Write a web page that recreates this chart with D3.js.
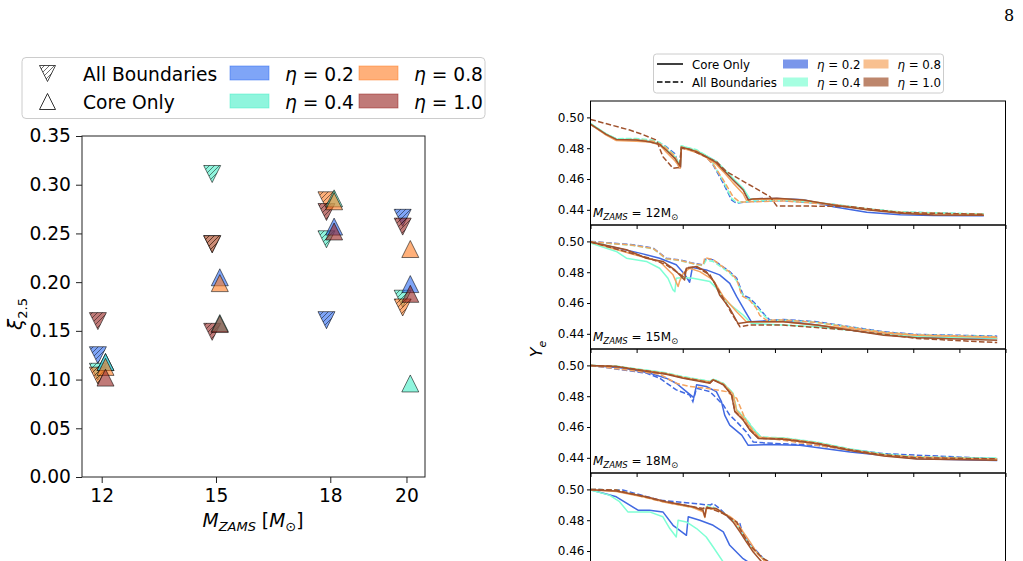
<!DOCTYPE html>
<html>
<head>
<meta charset="utf-8">
<script src="https://cdn.jsdelivr.net/npm/d3@7"></script>
<style>
  body { margin: 0; background: #fff; }
  svg { display: block; font-family: "DejaVu Sans", sans-serif; }
</style>
</head>
<body>
<div id="chart"></div>
<script>
// ---------- left panel: xi_2.5 vs M_ZAMS ----------
const masses = [12, 15, 18, 20];
const etaLabels = ["0.2", "0.4", "0.8", "1.0"];
const leftColors = ["#2a69f2", "#44eec6", "#ff7b21", "#96211e"];
const xiTicks = [0, 0.05, 0.10, 0.15, 0.20, 0.25, 0.30, 0.35];

// one row per eta, columns follow masses
const xiAll = [
  [0.125, 0.239, 0.161, 0.266],
  [0.108, 0.311, 0.244, 0.183],
  [0.104, 0.239, 0.284, 0.174],
  [0.160, 0.149, 0.272, 0.257]
];
const xiCore = [
  [0.118, 0.205, 0.257, 0.198],
  [0.118, 0.158, 0.286, 0.096],
  [0.113, 0.199, 0.283, 0.234],
  [0.102, 0.157, 0.252, 0.188]
];

// ---------- right panels: Y_e profiles ----------
const lineColors = ["#4169e1", "#7fffd4", "#f4a460", "#a0522d"];
const legendColors = ["#7a96ea", "#a6ffe1", "#f8c090", "#bd866c"];
const yeTicks = [0.44, 0.46, 0.48, 0.50];
const xTicksR = [0, 1, 2, 3, 4, 5, 6, 7, 8, 9];

// [x, Y_e] pairs, order eta 0.2, 0.4, 0.8, 1.0
const ye12Core = [
  [[0,0.4957],[0.34,0.489],[0.56,0.4857],[0.99,0.4853],[1.28,0.4842],[1.5,0.4825],[1.64,0.479],[1.83,0.4738],[1.95,0.4675],[1.97,0.481],[2.3,0.4782],[2.51,0.475],[2.73,0.4712],[2.88,0.4665],[3.09,0.46],[3.31,0.4535],[3.42,0.447],[3.6,0.4472],[4.04,0.4474],[4.62,0.4465],[5.27,0.442],[5.99,0.4385],[6.72,0.4368],[7.44,0.4363],[8.53,0.4362]],
  [[0,0.4962],[0.34,0.4893],[0.56,0.486],[0.99,0.4856],[1.28,0.4846],[1.5,0.483],[1.64,0.4795],[1.83,0.4745],[1.95,0.469],[1.97,0.4815],[2.3,0.4785],[2.51,0.4752],[2.73,0.4715],[2.88,0.467],[3.09,0.4605],[3.31,0.454],[3.46,0.447],[4.04,0.4472],[4.62,0.4462],[5.27,0.4432],[5.99,0.4405],[6.72,0.4385],[7.44,0.4374],[8.53,0.4372]],
  [[0,0.4955],[0.34,0.4885],[0.56,0.485],[0.99,0.4846],[1.28,0.484],[1.5,0.4822],[1.64,0.4775],[1.83,0.4718],[1.95,0.4672],[1.97,0.4802],[2.3,0.4772],[2.51,0.474],[2.73,0.4695],[2.88,0.4648],[3.09,0.4575],[3.31,0.4505],[3.38,0.4462],[3.53,0.4468],[4.04,0.447],[4.62,0.4462],[5.27,0.4432],[5.99,0.4403],[6.72,0.4383],[7.44,0.4372],[8.53,0.437]],
  [[0,0.4957],[0.34,0.489],[0.56,0.4857],[0.99,0.4853],[1.28,0.4842],[1.5,0.4825],[1.64,0.4788],[1.83,0.4734],[1.95,0.468],[1.97,0.4806],[2.08,0.4799],[2.3,0.4778],[2.51,0.4745],[2.73,0.4706],[2.88,0.4659],[3.09,0.4594],[3.31,0.4529],[3.42,0.4464],[3.53,0.4471],[4.04,0.4475],[4.62,0.4464],[5.27,0.4432],[5.99,0.44],[6.72,0.4378],[7.44,0.4367],[8.53,0.4365]]
];
const ye12All = [
  [[0,0.4957],[0.34,0.489],[0.56,0.486],[0.99,0.486],[1.36,0.4848],[1.5,0.4835],[1.64,0.481],[1.83,0.4765],[1.93,0.467],[1.97,0.4806],[2.3,0.4785],[2.51,0.4745],[2.66,0.4691],[2.88,0.4573],[3.06,0.4464],[3.17,0.4443],[3.46,0.4454],[4.18,0.446],[5.27,0.4435],[5.99,0.4405],[6.72,0.4385],[8.53,0.4371]],
  [[0,0.496],[0.34,0.4893],[0.56,0.4862],[0.99,0.4863],[1.36,0.4852],[1.5,0.4838],[1.64,0.4805],[1.83,0.4755],[1.93,0.4672],[1.97,0.4815],[2.3,0.479],[2.51,0.4752],[2.66,0.47],[2.88,0.4585],[3.06,0.4475],[3.17,0.4447],[3.46,0.4456],[4.18,0.4462],[5.27,0.4437],[5.99,0.4407],[6.72,0.4387],[8.53,0.4373]],
  [[0,0.4955],[0.34,0.4888],[0.56,0.4855],[0.99,0.4856],[1.36,0.4845],[1.5,0.483],[1.64,0.48],[1.83,0.475],[1.93,0.4668],[1.97,0.4808],[2.3,0.4783],[2.51,0.4742],[2.66,0.4695],[2.88,0.4595],[3.09,0.4485],[3.24,0.445],[3.46,0.4452],[4.18,0.4458],[5.27,0.4434],[5.99,0.4404],[6.72,0.4384],[8.53,0.437]],
  [[0,0.4987],[0.85,0.4918],[1.07,0.4896],[1.43,0.4853],[1.57,0.4745],[1.79,0.467],[1.93,0.4675],[1.97,0.4799],[2.15,0.4793],[2.73,0.4713],[2.95,0.4648],[3.89,0.4486],[4.04,0.4425],[4.62,0.4425],[5.63,0.4421],[6.72,0.4382],[8.53,0.4371]]
];

const ye15Core = [
  [[0,0.4996],[1.07,0.4924],[1.5,0.4891],[1.86,0.4848],[2.04,0.4787],[2.15,0.4735],[2.21,0.483],[2.51,0.4815],[2.8,0.4783],[3.02,0.4728],[3.17,0.4641],[3.38,0.4533],[3.49,0.4478],[3.82,0.4485],[4.18,0.4485],[4.91,0.4457],[5.63,0.4424],[6.36,0.4396],[7.08,0.438],[8.82,0.437]],
  [[0,0.4989],[0.56,0.4935],[0.78,0.4891],[1.21,0.487],[1.5,0.4826],[1.68,0.4761],[1.79,0.4685],[1.83,0.4674],[1.86,0.4761],[2.01,0.4765],[2.22,0.4761],[2.59,0.4739],[2.73,0.4696],[2.95,0.4609],[3.31,0.4522],[3.49,0.4467],[4.18,0.4457],[4.91,0.4446],[5.63,0.4424],[6.36,0.4396],[7.08,0.4382],[8.82,0.4372]],
  [[0,0.4996],[0.92,0.4917],[1.5,0.487],[1.79,0.4783],[1.9,0.4707],[1.93,0.4739],[2.01,0.4793],[2.15,0.4826],[2.37,0.4804],[2.66,0.475],[2.88,0.4641],[3.17,0.4543],[3.38,0.4478],[4.18,0.4478],[5.63,0.4435],[6.36,0.4405],[7.08,0.439],[8.82,0.4376]],
  [[0,0.4996],[0.78,0.4946],[1.21,0.4891],[1.57,0.487],[1.83,0.4815],[2.04,0.475],[2.08,0.4826],[2.3,0.4837],[2.51,0.4804],[2.7,0.4728],[2.8,0.4652],[3.02,0.4565],[3.2,0.4467],[3.46,0.4478],[4.18,0.4478],[4.91,0.4457],[6.36,0.4391],[7.08,0.4375],[8.82,0.4359]]
];
const ye15All = [
  [[0,0.5],[0.92,0.4978],[1.36,0.4957],[1.5,0.4924],[1.64,0.4891],[1.93,0.488],[2.22,0.4859],[2.44,0.4848],[2.51,0.4891],[2.66,0.488],[3.02,0.4804],[3.17,0.4761],[3.31,0.4652],[3.46,0.463],[3.6,0.4587],[3.78,0.4522],[3.89,0.4489],[4.18,0.4493],[4.91,0.4478],[5.63,0.4446],[6.36,0.4413],[7.08,0.4396],[8.82,0.4385]],
  [[0,0.4996],[0.92,0.4974],[1.36,0.4952],[1.5,0.492],[1.64,0.4886],[1.93,0.4876],[2.22,0.4855],[2.44,0.4843],[2.51,0.4878],[2.66,0.487],[3.02,0.4795],[3.17,0.4745],[3.31,0.4645],[3.46,0.462],[3.6,0.4575],[3.78,0.4515],[3.89,0.4486],[4.18,0.4489],[4.91,0.4474],[5.63,0.4443],[6.36,0.441],[7.08,0.4393],[8.82,0.4382]],
  [[0,0.4998],[0.92,0.4975],[1.36,0.4953],[1.5,0.4922],[1.64,0.4888],[1.93,0.4878],[2.22,0.4856],[2.44,0.4845],[2.48,0.4895],[2.66,0.4882],[3.02,0.48],[3.17,0.4755],[3.28,0.4648],[3.46,0.4615],[3.6,0.4565],[3.67,0.452],[3.82,0.4488],[4.18,0.449],[4.91,0.4474],[5.63,0.4442],[6.36,0.441],[7.08,0.4392],[8.82,0.438]],
  [[0,0.4996],[1.28,0.4891],[1.64,0.4848],[2.01,0.4772],[2.09,0.483],[2.3,0.4833],[2.59,0.4783],[2.73,0.4707],[2.88,0.463],[3.06,0.4533],[3.24,0.4446],[3.46,0.4457],[4.18,0.4457],[5.63,0.4424],[7.08,0.437],[8.82,0.4343]]
];

const ye18Core = [
  [[0,0.5],[0.7,0.4983],[1.28,0.495],[1.64,0.4917],[1.86,0.4884],[2.08,0.483],[2.24,0.4791],[2.3,0.4874],[2.51,0.4863],[2.73,0.483],[2.84,0.4765],[2.91,0.4677],[3.02,0.4612],[3.28,0.4547],[3.42,0.4481],[3.82,0.4486],[4.54,0.4481],[5.63,0.4438],[7.08,0.4394],[8.82,0.4383]],
  [[0,0.5],[0.56,0.4995],[0.99,0.4977],[1.64,0.495],[2.01,0.4925],[2.59,0.4895],[2.66,0.491],[2.88,0.4883],[3.09,0.482],[3.17,0.471],[3.38,0.465],[3.53,0.4588],[3.7,0.4532],[4.18,0.4528],[4.91,0.45],[5.63,0.4456],[6.36,0.4422],[7.08,0.4404],[8.82,0.4396]],
  [[0,0.5],[0.56,0.4993],[0.99,0.4975],[1.64,0.4948],[2.01,0.4922],[2.59,0.4892],[2.66,0.4908],[2.88,0.488],[3.09,0.4815],[3.17,0.4705],[3.35,0.4648],[3.49,0.4585],[3.67,0.453],[4.18,0.4525],[4.91,0.4496],[5.63,0.4452],[6.36,0.4419],[7.08,0.4401],[8.82,0.4392]],
  [[0,0.5],[0.56,0.4993],[0.99,0.4972],[1.64,0.4943],[2.01,0.4917],[2.59,0.4884],[2.66,0.4906],[2.88,0.4874],[3.06,0.4808],[3.13,0.4699],[3.31,0.4645],[3.46,0.4579],[3.64,0.4525],[4.18,0.452],[4.91,0.4492],[5.63,0.4448],[6.36,0.4412],[7.08,0.4392],[8.82,0.4385]]
];
const ye18All = [
  [[0,0.5],[1.21,0.495],[1.5,0.4917],[1.86,0.4841],[2.15,0.4808],[2.22,0.4765],[2.3,0.4852],[2.59,0.483],[2.88,0.4743],[3.02,0.4677],[3.17,0.4634],[3.38,0.4568],[3.53,0.4503],[3.82,0.4496],[4.91,0.4481],[6.36,0.4427],[8.82,0.4394]],
  [[0,0.5],[0.56,0.4995],[0.99,0.4978],[1.64,0.4952],[2.01,0.4927],[2.59,0.4897],[2.66,0.4912],[2.88,0.4885],[3.09,0.4822],[3.17,0.4712],[3.38,0.4652],[3.53,0.459],[3.7,0.4535],[4.18,0.453],[4.91,0.4502],[5.63,0.4458],[6.36,0.4425],[7.08,0.4406],[8.82,0.4398]],
  [[0,0.5],[1.5,0.4943],[1.86,0.4884],[2.15,0.4863],[2.51,0.4852],[2.95,0.483],[3.17,0.4786],[3.38,0.4634],[3.64,0.4536],[4.18,0.4514],[6.36,0.4416],[8.82,0.4387]],
  [[0,0.5],[0.56,0.4993],[0.99,0.4974],[1.64,0.4946],[2.01,0.492],[2.59,0.4888],[2.66,0.4906],[2.88,0.4876],[3.06,0.481],[3.13,0.4703],[3.31,0.4648],[3.46,0.4582],[3.64,0.4528],[4.18,0.4523],[4.91,0.4495],[5.63,0.4452],[6.36,0.442],[7.08,0.44],[8.82,0.4394]]
];

const ye20Core = [
  [[0,0.4998],[0.56,0.4952],[1.03,0.4865],[1.28,0.4865],[1.57,0.4854],[1.79,0.4767],[2.08,0.4702],[2.12,0.4822],[2.37,0.48],[2.66,0.4767],[2.88,0.4724],[3.02,0.4637],[3.31,0.455],[3.7,0.4475],[4.3,0.445],[8.8,0.438]],
  [[0,0.4996],[0.41,0.4963],[0.63,0.492],[0.81,0.4854],[1.28,0.4854],[1.57,0.4822],[1.72,0.4746],[1.86,0.4691],[1.9,0.48],[2.08,0.4789],[2.3,0.4746],[2.51,0.4691],[2.66,0.4626],[2.88,0.4528],[3.3,0.446],[4.3,0.444],[8.8,0.4385]],
  [[0,0.4998],[0.56,0.4987],[1.21,0.4948],[1.64,0.4915],[2.22,0.4882],[2.44,0.4855],[2.48,0.4818],[2.52,0.4878],[2.73,0.4868],[3.02,0.4825],[3.17,0.4789],[3.31,0.4724],[3.46,0.4659],[3.6,0.4593],[3.82,0.452],[4.3,0.4462],[5,0.4442],[8.8,0.4382]],
  [[0,0.4998],[0.56,0.4989],[1.21,0.4952],[1.64,0.492],[2.22,0.4887],[2.44,0.4865],[2.48,0.4822],[2.51,0.488],[2.73,0.4876],[2.95,0.4833],[3.09,0.4789],[3.24,0.4724],[3.38,0.4659],[3.53,0.4593],[3.75,0.4517],[4.2,0.446],[5,0.444],[8.8,0.438]]
];
const ye20All = [
  [[0,0.5],[0.7,0.4996],[1.5,0.493],[2.59,0.4898],[2.66,0.4909],[2.8,0.4876],[3.02,0.4811],[3.24,0.4778],[3.31,0.4702],[3.46,0.4648],[3.75,0.455],[4.2,0.4475],[5,0.4455],[8.8,0.439]],
  [[0,0.5],[0.56,0.4996],[1.57,0.4922],[2.44,0.4868],[2.55,0.4895],[2.66,0.4885],[2.95,0.4835],[3.13,0.479],[3.28,0.472],[3.46,0.4635],[3.75,0.4548],[4.2,0.4477],[5,0.4454],[8.8,0.4386]],
  [[0,0.5],[0.56,0.4995],[1.57,0.492],[2.44,0.4872],[2.51,0.4886],[2.66,0.4876],[2.95,0.483],[3.13,0.479],[3.28,0.4715],[3.46,0.463],[3.75,0.4545],[4.2,0.4475],[5,0.4452],[8.8,0.4383]],
  [[0,0.5],[0.56,0.4996],[1.57,0.4924],[2.44,0.4876],[2.51,0.4887],[2.88,0.4843],[3.17,0.4789],[3.28,0.4724],[3.46,0.4637],[3.75,0.455],[4.2,0.4478],[5,0.4455],[8.8,0.4385]]
];

const panelMasses = [12, 15, 18, 20];
const panelCore = [ye12Core, ye15Core, ye18Core, ye20Core];
const panelAll = [ye12All, ye15All, ye18All, ye20All];

// ---------- svg ----------
const width = 1023, height = 561;
const svg = d3.select("#chart").append("svg")
    .attr("width", width)
    .attr("height", height)
    .attr("viewBox", [0, 0, width, height]);

const bigFont = 18.67;
const smallFont = 12;

// hatch for the "All Boundaries" markers
const defs = svg.append("defs");
defs.append("pattern")
    .attr("id", "hatch")
    .attr("patternUnits", "userSpaceOnUse")
    .attr("width", 5).attr("height", 5)
  .append("path")
    .attr("d", "M-1,1 L1,-1 M0,5 L5,0 M4,6 L6,4")
    .attr("stroke", "#000")
    .attr("stroke-width", 0.8);

// page number
svg.append("text")
    .attr("x", 1009).attr("y", 21)
    .attr("text-anchor", "middle")
    .attr("font-family", "'DejaVu Serif', serif")
    .attr("font-size", 16)
    .text("8");

// triangle marker path, centred on its bounding box
function tri(cx, cy, s, down) {
  const h = s / 2;
  if (down) return `M${cx - h},${cy - h}L${cx + h},${cy - h}L${cx},${cy + h}Z`;
  return `M${cx - h},${cy + h}L${cx + h},${cy + h}L${cx},${cy - h}Z`;
}

// ---------- left scatter ----------
const xL = d3.scaleLinear([11.483, 20.486], [82, 425]);
const yL = d3.scaleLinear([0, 0.35], [477, 136]);
const markerSize = 17;
const left = svg.append("g");

function drawMarkers(rows, down, dx) {
  rows.forEach((row, k) => {
    row.forEach((v, j) => {
      const d = tri(xL(masses[j] + dx), yL(v), markerSize, down);
      left.append("path").attr("d", d)
          .attr("fill", leftColors[k]).attr("fill-opacity", 0.6);
      if (down) {
        left.append("path").attr("d", d)
            .attr("fill", "url(#hatch)").attr("fill-opacity", 0.6);
      }
      left.append("path").attr("d", d)
          .attr("fill", "none").attr("stroke", "#000")
          .attr("stroke-opacity", 0.55).attr("stroke-width", 1)
          .attr("stroke-linejoin", "miter");
    });
  });
}
drawMarkers(xiAll, true, -0.1);
drawMarkers(xiCore, false, 0.1);

left.append("rect")
    .attr("x", 82).attr("y", 136).attr("width", 343).attr("height", 341)
    .attr("fill", "none").attr("stroke", "#222").attr("stroke-width", 1);

const yAxisL = left.append("g")
    .attr("transform", "translate(82,0)")
    .call(d3.axisLeft(yL).tickValues(xiTicks).tickFormat(d3.format(".2f")).tickSize(6).tickPadding(5).tickSizeOuter(0));
const xAxisL = left.append("g")
    .attr("transform", "translate(0,477)")
    .call(d3.axisBottom(xL).tickValues(masses).tickFormat(d3.format("d")).tickSize(6).tickPadding(6).tickSizeOuter(0));
[yAxisL, xAxisL].forEach(g => {
  g.select(".domain").remove();
  g.selectAll(".tick line").attr("stroke", "#222");
  g.selectAll(".tick text").attr("font-size", bigFont).attr("fill", "#000")
      .attr("font-family", "'DejaVu Sans', sans-serif");
});

// axis titles
const xTitle = left.append("text")
    .attr("x", 253).attr("y", 527)
    .attr("text-anchor", "middle")
    .attr("font-size", bigFont);
xTitle.append("tspan").attr("font-style", "italic").text("M");
xTitle.append("tspan").attr("font-style", "italic").attr("font-size", 13).attr("dy", 4).text("ZAMS");
xTitle.append("tspan").attr("dy", -4).text(" [");
xTitle.append("tspan").attr("font-style", "italic").text("M");
xTitle.append("tspan").attr("font-size", 13).attr("dy", 4).text("\u2299");
xTitle.append("tspan").attr("dy", -4).text("]");

const yTitle = left.append("text")
    .attr("transform", "translate(22,314) rotate(-90)")
    .attr("text-anchor", "middle")
    .attr("font-size", 20);
yTitle.append("tspan").attr("font-style", "italic").text("\u03be");
yTitle.append("tspan").attr("font-size", 13).attr("dy", 5).text("2.5");

// left legend
const legL = svg.append("g");
legL.append("rect")
    .attr("x", 22).attr("y", 57.5).attr("width", 463).attr("height", 61)
    .attr("rx", 4).attr("fill", "#fff").attr("fill-opacity", 0.8)
    .attr("stroke", "#ccc").attr("stroke-width", 1);
const rowsL = [73.5, 101.5];
const tdown = tri(47.5, rowsL[0], 16, true);
legL.append("path").attr("d", tdown).attr("fill", "url(#hatch)").attr("fill-opacity", 0.7);
legL.append("path").attr("d", tdown).attr("fill", "none").attr("stroke", "#000").attr("stroke-opacity", 0.7);
legL.append("path").attr("d", tri(47.5, rowsL[1], 16, false))
    .attr("fill", "none").attr("stroke", "#000").attr("stroke-opacity", 0.8);
legL.append("text").attr("x", 83).attr("y", rowsL[0] + 7).attr("font-size", bigFont).text("All Boundaries");
legL.append("text").attr("x", 83).attr("y", rowsL[1] + 7).attr("font-size", bigFont).text("Core Only");

const patchX = [230, 359];
const etaX = [285, 414];
etaLabels.forEach((lab, k) => {
  const col = Math.floor(k / 2), row = k % 2;
  legL.append("rect")
      .attr("x", patchX[col]).attr("y", rowsL[row] - 7.5)
      .attr("width", 39).attr("height", 14)
      .attr("fill", leftColors[k]).attr("fill-opacity", 0.6)
      .attr("stroke", leftColors[k]).attr("stroke-opacity", 0.6).attr("stroke-width", 0.8);
  const t = legL.append("text").attr("x", etaX[col]).attr("y", rowsL[row] + 7).attr("font-size", bigFont);
  t.append("tspan").attr("font-style", "italic").text("\u03b7");
  t.append("tspan").text(" = " + lab);
});

// ---------- right panels ----------
const xR = d3.scaleLinear([0, 9], [590.5, 1005.5]);
const panelTop = 101, panelH = 124;
const yDomain = [0.43015, 0.51065];
const right = svg.append("g");
const tickLayer = svg.append("g");

panelMasses.forEach((m, i) => {
  const top = panelTop + i * panelH;
  const yR = d3.scaleLinear(yDomain, [top + panelH, top]);
  const g = right.append("g");

  defs.append("clipPath").attr("id", "clip" + i)
    .append("rect")
      .attr("x", xR(0)).attr("y", top)
      .attr("width", xR(9) - xR(0)).attr("height", panelH);

  const line = d3.line().x(d => xR(d[0])).y(d => yR(d[1]));
  const lg = g.append("g").attr("clip-path", `url(#clip${i})`);
  for (let k = 0; k < 4; k++) {
    lg.append("path").datum(panelCore[i][k])
        .attr("d", line).attr("fill", "none")
        .attr("stroke", lineColors[k]).attr("stroke-width", 1.5)
        .attr("stroke-linejoin", "round");
    lg.append("path").datum(panelAll[i][k])
        .attr("d", line).attr("fill", "none")
        .attr("stroke", lineColors[k]).attr("stroke-width", 1.5)
        .attr("stroke-dasharray", "5.5,2.4");
  }

  g.append("rect")
      .attr("x", xR(0)).attr("y", top)
      .attr("width", xR(9) - xR(0)).attr("height", panelH)
      .attr("fill", "none").attr("stroke", "#000").attr("stroke-width", 1);

  // only ticks that land on the page (the last panel runs past the bottom edge)
  const visibleTicks = yeTicks.filter(v => yR(v) + 6 < height);
  const ya = tickLayer.append("g")
      .attr("transform", `translate(${xR(0)},0)`)
      .call(d3.axisLeft(yR).tickValues(visibleTicks).tickFormat(d3.format(".2f")).tickSize(3.5).tickPadding(2.5).tickSizeOuter(0));
  const xa = tickLayer.append("g")
      .attr("transform", `translate(0,${top + panelH})`)
      .call(d3.axisBottom(xR).tickValues(xTicksR).tickFormat("").tickSize(4).tickSizeOuter(0));
  [ya, xa].forEach(a => {
    a.select(".domain").remove();
    a.selectAll(".tick line").attr("stroke", "#000");
    a.selectAll(".tick text").attr("font-size", smallFont).attr("fill", "#000")
        .attr("font-family", "'DejaVu Sans', sans-serif");
  });

  // panel label sits near the panel bottom; the last one falls below the page
  if (top + 116 < height) {
    const lab = g.append("text")
        .attr("x", 593).attr("y", top + 116)
        .attr("font-size", smallFont);
    lab.append("tspan").attr("font-style", "italic").text("M");
    lab.append("tspan").attr("font-style", "italic").attr("font-size", 8.5).attr("dy", 2.5).text("ZAMS");
    lab.append("tspan").attr("dy", -2.5).text(" = " + m + "M");
    lab.append("tspan").attr("font-size", 8.5).attr("dy", 2.5).text("\u2299");
  }
});

const yeTitle = svg.append("text")
    .attr("transform", "translate(542,349) rotate(-90)")
    .attr("text-anchor", "middle")
    .attr("font-size", 16);
yeTitle.append("tspan").attr("font-style", "italic").text("Y");
yeTitle.append("tspan").attr("font-style", "italic").attr("font-size", 11).attr("dy", 4).text("e");

// right legend
const legR = svg.append("g");
legR.append("rect")
    .attr("x", 653.5).attr("y", 54).attr("width", 290).attr("height", 39)
    .attr("rx", 3).attr("fill", "#fff").attr("fill-opacity", 0.8)
    .attr("stroke", "#ccc").attr("stroke-width", 1);
const rowsR = [64, 82];
legR.append("line").attr("x1", 657).attr("x2", 683).attr("y1", rowsR[0]).attr("y2", rowsR[0])
    .attr("stroke", "#000").attr("stroke-width", 1.5);
legR.append("line").attr("x1", 657).attr("x2", 683).attr("y1", rowsR[1]).attr("y2", rowsR[1])
    .attr("stroke", "#000").attr("stroke-width", 1.5).attr("stroke-dasharray", "5.5,2.4");
legR.append("text").attr("x", 692).attr("y", rowsR[0] + 4.5).attr("font-size", 11.8).text("Core Only");
legR.append("text").attr("x", 692).attr("y", rowsR[1] + 4.5).attr("font-size", 11.8).text("All Boundaries");

const patchXR = [783, 863.5];
const etaXR = [817, 897.5];
etaLabels.forEach((lab, k) => {
  const col = Math.floor(k / 2), row = k % 2;
  legR.append("rect")
      .attr("x", patchXR[col]).attr("y", rowsR[row] - 4.5)
      .attr("width", 25).attr("height", 9)
      .attr("fill", legendColors[k]);
  const t = legR.append("text").attr("x", etaXR[col]).attr("y", rowsR[row] + 4.5).attr("font-size", 11.8);
  t.append("tspan").attr("font-style", "italic").text("\u03b7");
  t.append("tspan").text(" = " + lab);
});
</script>
</body>
</html>
